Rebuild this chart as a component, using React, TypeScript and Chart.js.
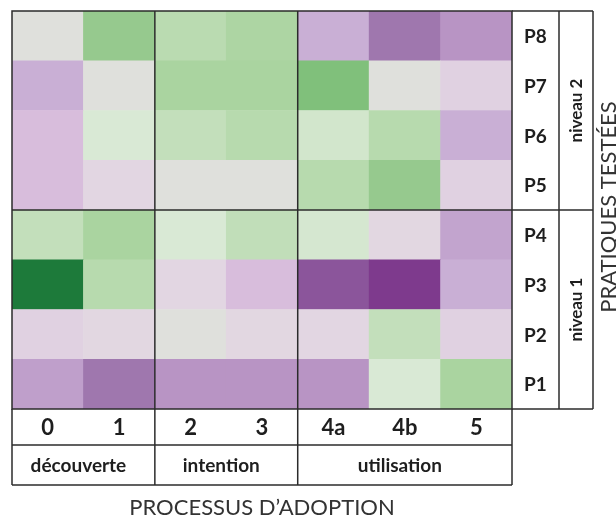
import React, { useEffect, useRef } from "react";
import { Chart, registerables } from "chart.js";

Chart.register(...registerables);

// Adoption process stages (columns)
const stages = ["0", "1", "2", "3", "4a", "4b", "5"];
// Stage groups under the stage labels
const groupLabels = ["découverte", "intention", "utilisation"];
const groupSpans = [2, 2, 3];
// Practices (rows, bottom to top)
const practices = ["P1", "P2", "P3", "P4", "P5", "P6", "P7", "P8"];
const levelLabels = ["niveau 1", "niveau 2"];
const levelSpans = [4, 4];
const xTitle = "PROCESSUS D\u2019ADOPTION";
const yTitle = "PRATIQUES TESTÉES";

// Scores per practice, one value per stage (-1 = strong purple, +1 = strong green)
const p1 = [-0.4, -0.7, -0.5, -0.5, -0.5, 0.1, 0.5];
const p2 = [-0.1, -0.07, 0, -0.07, -0.08, 0.25, -0.1];
const p3 = [1.0, 0.37, -0.08, -0.18, -0.85, -1.0, -0.27];
const p4 = [0.25, 0.5, 0.1, 0.27, 0.13, -0.07, -0.36];
const p5 = [-0.18, -0.08, 0, 0, 0.37, 0.62, -0.1];
const p6 = [-0.18, 0.1, 0.25, 0.37, 0.15, 0.37, -0.27];
const p7 = [-0.27, 0, 0.5, 0.5, 0.75, 0, -0.1];
const p8 = [0, 0.62, 0.34, 0.47, -0.27, -0.7, -0.5];
const rows = [p1, p2, p3, p4, p5, p6, p7, p8];

// Diverging purple-green colour ramp
const rampValues = [-1, -0.85, -0.7, -0.5, -0.35, -0.25, -0.18, -0.08, 0, 0.1, 0.25, 0.37, 0.5, 0.62, 0.75, 1];
const rampColors = [
  "#7e3a8d", "#8b559b", "#9f77ae", "#b894c4", "#c3a5cf", "#cbb1d6", "#d8bddc", "#e2d6e2",
  "#dfe0dc", "#d9e9d5", "#c3dfbb", "#b7daae", "#aad4a0", "#96c98e", "#80c07b", "#1d7a3a",
];

function hexToRgb(h: string) {
  const n = parseInt(h.slice(1), 16);
  return [(n >> 16) & 255, (n >> 8) & 255, n & 255];
}
function colorFor(v: number) {
  if (v <= rampValues[0]) return rampColors[0];
  for (let i = 1; i < rampValues.length; i++) {
    if (v <= rampValues[i]) {
      const t = (v - rampValues[i - 1]) / (rampValues[i] - rampValues[i - 1]);
      const a = hexToRgb(rampColors[i - 1]);
      const b = hexToRgb(rampColors[i]);
      const c = a.map((x, k) => Math.round(x + (b[k] - x) * t));
      return `rgb(${c[0]},${c[1]},${c[2]})`;
    }
  }
  return rampColors[rampColors.length - 1];
}

const FONT = "Lato, 'Open Sans', sans-serif";

const tablePlugin = {
  id: "tablePlugin",
  afterDatasetsDraw(chart: any) {
    const ctx = chart.ctx as CanvasRenderingContext2D;
    const xs = chart.scales.x;
    const ys = chart.scales.y;
    const xEdge = (i: number) => xs.getPixelForValue(i - 0.5);
    const yEdge = (k: number) => ys.getPixelForValue(k);
    const left = xEdge(0);
    const right = xEdge(stages.length);
    const top = yEdge(practices.length);
    const bottom = yEdge(0);
    const tickRowH = 36;
    const groupRowH = 40;
    const pColW = 47;
    const lvlColW = 34;

    ctx.save();
    ctx.strokeStyle = "#2b2b2b";
    ctx.lineWidth = 1.5;
    const line = (x1: number, y1: number, x2: number, y2: number) => {
      ctx.beginPath();
      ctx.moveTo(x1, y1);
      ctx.lineTo(x2, y2);
      ctx.stroke();
    };

    // Heatmap frame
    ctx.strokeRect(left, top, right - left, bottom - top);
    // Group separators
    let acc = 0;
    groupSpans.forEach((s, gi) => {
      acc += s;
      if (gi < groupSpans.length - 1) line(xEdge(acc), top, xEdge(acc), bottom + tickRowH + groupRowH);
    });
    let lacc = 0;
    levelSpans.forEach((s, li) => {
      lacc += s;
      if (li < levelSpans.length - 1)
        line(left, yEdge(lacc), right + pColW + lvlColW, yEdge(lacc));
    });

    // Bottom table
    const yTick = bottom + tickRowH;
    const yGroup = yTick + groupRowH;
    line(left, bottom, left, yGroup);
    line(right, bottom, right, yGroup);
    line(left, yTick, right, yTick);
    line(left, yGroup, right, yGroup);

    // Right table
    const xP = right + pColW;
    const xL = xP + lvlColW;
    line(right, top, xL, top);
    line(right, bottom, xL, bottom);
    line(xP, top, xP, bottom);
    line(xL, top, xL, bottom);

    ctx.fillStyle = "#1e1e1e";
    ctx.textAlign = "center";
    ctx.textBaseline = "middle";

    // Stage ticks
    ctx.font = `bold 22px ${FONT}`;
    stages.forEach((s, i) => {
      ctx.fillText(s, xs.getPixelForValue(i), bottom + tickRowH / 2 + 1);
    });
    // Group labels
    ctx.font = `bold 19px ${FONT}`;
    acc = 0;
    groupSpans.forEach((s, gi) => {
      const cx = (xEdge(acc) + xEdge(acc + s)) / 2 - 5;
      ctx.fillText(groupLabels[gi], cx, yTick + groupRowH / 2 + 1);
      acc += s;
    });

    // Practice labels
    ctx.font = `bold 19px ${FONT}`;
    practices.forEach((p, k) => {
      ctx.fillText(p, right + pColW / 2, ys.getPixelForValue(k + 0.5) + 1);
    });
    // Level labels (rotated)
    ctx.font = `bold 17px ${FONT}`;
    lacc = 0;
    levelSpans.forEach((s, li) => {
      const cy = (yEdge(lacc) + yEdge(lacc + s)) / 2;
      ctx.save();
      ctx.translate(xP + lvlColW / 2 + 1, cy);
      ctx.rotate(-Math.PI / 2);
      ctx.fillText(levelLabels[li], 0, 0);
      ctx.restore();
      lacc += s;
    });

    // Axis titles
    ctx.fillStyle = "#333";
    ctx.font = `22px ${FONT}`;
    ctx.fillText(xTitle, (left + right) / 2, yGroup + 23);
    ctx.save();
    ctx.textBaseline = "alphabetic";
    ctx.translate(xL + 23, (top + bottom) / 2 - 3);
    ctx.rotate(-Math.PI / 2);
    ctx.fillText(yTitle, 0, 0);
    ctx.restore();

    ctx.restore();
  },
};

export default function App() {
  const ref = useRef<HTMLCanvasElement | null>(null);
  useEffect(() => {
    if (!ref.current) return;
    const chart = new Chart(ref.current, {
      type: "bar",
      data: {
        labels: stages,
        datasets: practices.map((p, k) => ({
          label: p,
          data: stages.map(() => [k, k + 1]) as any,
          backgroundColor: rows[k].map(colorFor),
          borderWidth: 0,
          barPercentage: 1,
          categoryPercentage: 1,
          grouped: false,
        })),
      },
      options: {
        animation: false,
        responsive: false,
        devicePixelRatio: 1,
        layout: { padding: { left: 12, top: 11, right: 104, bottom: 109 } },
        plugins: { legend: { display: false }, tooltip: { enabled: false } },
        scales: {
          x: { type: "category", display: false, offset: true },
          y: { type: "linear", display: false, min: 0, max: practices.length },
        },
      },
      plugins: [tablePlugin],
    });
    return () => chart.destroy();
  }, []);
  return (
    <div style={{ position: "absolute", left: 0, top: 0, width: 616, height: 518, background: "#fff" }}>
      <canvas ref={ref} width={616} height={518} style={{ width: 616, height: 518, display: "block" }} />
    </div>
  );
}
